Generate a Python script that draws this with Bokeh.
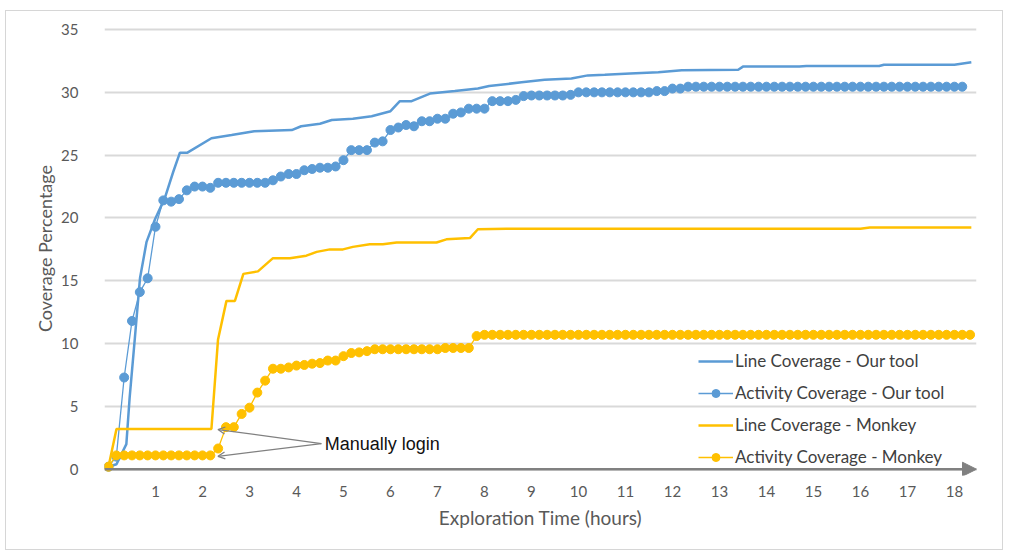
from bokeh.plotting import figure
from bokeh.models import (Range1d, FixedTicker, Arrow, NormalHead, OpenHead,
                          Label, Legend, LegendItem)
from bokeh.embed import file_html
from bokeh.resources import INLINE

# ---------------- data ----------------
series_names = ["Line Coverage - Our tool", "Activity Coverage - Our tool",
                "Line Coverage - Monkey", "Activity Coverage - Monkey"]

# Line coverage of our tool: breakpoints (hours, %)
ours_line_hours = [0, 0.17, 0.38, 0.45, 0.56, 0.67, 0.81, 0.99, 1.2, 1.38,
                   1.52, 1.68, 2.19, 2.62, 3.1, 3.9, 4.1, 4.5, 4.75, 5.2,
                   5.6, 6.0, 6.2, 6.45, 6.84, 7.37, 7.86, 8.1, 8.79, 9.28,
                   9.85, 10.2, 10.56, 11.1, 11.7, 12.2, 13.4, 13.5, 14.7, 14.85,
                   16.4, 16.5, 18.0, 18.36]
ours_line_cov = [0.2, 0.4, 2.0, 5.7, 10.4, 15.2, 18.1, 19.9, 21.6, 23.7,
                 25.2, 25.2, 26.35, 26.6, 26.9, 27.0, 27.3, 27.5, 27.8, 27.9,
                 28.1, 28.5, 29.3, 29.3, 29.9, 30.1, 30.3, 30.5, 30.8, 31.0,
                 31.1, 31.35, 31.4, 31.5, 31.6, 31.75, 31.8, 32.05, 32.05, 32.1,
                 32.1, 32.2, 32.2, 32.4]

# Line coverage of Monkey: breakpoints (hours, %)
monkey_line_hours = [0, 0.17, 2.19, 2.33, 2.51, 2.69, 2.87, 3.18, 3.5, 3.86,
                     4.21, 4.43, 4.71, 4.99, 5.2, 5.56, 5.84, 6.13, 6.98, 7.19,
                     7.69, 7.86, 8.47, 16.0, 16.2, 18.36]
monkey_line_cov = [0.2, 3.2, 3.2, 10.3, 13.4, 13.4, 15.55, 15.75, 16.8, 16.8,
                   17.0, 17.3, 17.5, 17.5, 17.7, 17.9, 17.9, 18.05, 18.05, 18.3,
                   18.4, 19.1, 19.15, 19.15, 19.25, 19.25]

# Activity coverage, one sample every 10 minutes
ours_activity = [
    0.2, 1.0, 7.3, 11.8, 14.1, 15.2, 19.3, 21.4, 21.3, 21.5,
    22.2, 22.5, 22.5, 22.4, 22.8, 22.8, 22.8, 22.8, 22.8, 22.8,
    22.8, 23.0, 23.3, 23.5, 23.5, 23.8, 23.9, 24.0, 24.0, 24.1,
    24.6, 25.4, 25.4, 25.4, 26.0, 26.1, 27.0, 27.2, 27.4, 27.3,
    27.7, 27.7, 27.9, 27.9, 28.3, 28.4, 28.7, 28.7, 28.7, 29.3,
    29.3, 29.3, 29.4, 29.7, 29.75, 29.75, 29.75, 29.75, 29.75, 29.8,
    30.0, 30.0, 30.0, 30.0, 30.0, 30.0, 30.0, 30.0, 30.0, 30.0,
    30.1, 30.1, 30.3, 30.3, 30.45, 30.45, 30.45, 30.45, 30.45, 30.45,
    30.45, 30.45, 30.45, 30.45, 30.45, 30.45, 30.45, 30.45, 30.45, 30.45,
    30.45, 30.45, 30.45, 30.45, 30.45, 30.45, 30.45, 30.45, 30.45, 30.45,
    30.45, 30.45, 30.45, 30.45, 30.45, 30.45, 30.45, 30.45, 30.45, 30.45,
]
monkey_activity = [
    0.2, 1.1, 1.1, 1.1, 1.1, 1.1, 1.1, 1.1, 1.1, 1.1,
    1.1, 1.1, 1.1, 1.1, 1.65, 3.35, 3.35, 4.4, 4.9, 6.1,
    7.05, 8.0, 8.0, 8.1, 8.25, 8.3, 8.4, 8.45, 8.65, 8.65,
    9.0, 9.25, 9.3, 9.4, 9.55, 9.55, 9.55, 9.55, 9.55, 9.55,
    9.55, 9.55, 9.55, 9.65, 9.65, 9.65, 9.65, 10.6, 10.7, 10.7,
    10.7, 10.7, 10.7, 10.7, 10.7, 10.7, 10.7, 10.7, 10.7, 10.7,
    10.7, 10.7, 10.7, 10.7, 10.7, 10.7, 10.7, 10.7, 10.7, 10.7,
    10.7, 10.7, 10.7, 10.7, 10.7, 10.7, 10.7, 10.7, 10.7, 10.7,
    10.7, 10.7, 10.7, 10.7, 10.7, 10.7, 10.7, 10.7, 10.7, 10.7,
    10.7, 10.7, 10.7, 10.7, 10.7, 10.7, 10.7, 10.7, 10.7, 10.7,
    10.7, 10.7, 10.7, 10.7, 10.7, 10.7, 10.7, 10.7, 10.7, 10.7,
    10.7,
]
ours_activity_hours = [i / 6 for i in range(len(ours_activity))]
monkey_activity_hours = [i / 6 for i in range(len(monkey_activity))]

x_tick_values = list(range(1, 19))
y_tick_values = [0, 5, 10, 15, 20, 25, 30, 35]

annotation_text = "Manually login"

# ---------------- styling ----------------
BLUE = "#5b9bd5"
YELLOW = "#ffc000"
GRID = "#d9d9d9"
AXIS_GRAY = "#808080"
TEXT_GRAY = "#595959"
FONT = "Lato"

p = figure(width=998, height=540, output_backend="svg", toolbar_location=None,
           x_range=Range1d(-0.085, 18.47), y_range=Range1d(-0.5, 35.64),
           min_border_left=98, min_border_right=28, min_border_top=10,
           min_border_bottom=76)
p.margin = (10, 0, 0, 5)
p.styles = {"border": "1px solid #d6d6d6", "box-sizing": "border-box"}
p.outline_line_color = None
p.background_fill_color = "white"
p.border_fill_color = "white"

# axes
p.xaxis.ticker = FixedTicker(ticks=x_tick_values)
p.yaxis.ticker = FixedTicker(ticks=y_tick_values)
for ax in (p.xaxis[0], p.yaxis[0]):
    ax.axis_line_color = None
    ax.major_tick_line_color = None
    ax.minor_tick_line_color = None
    ax.major_label_text_font = FONT
    ax.major_label_text_font_size = "15px"
    ax.major_label_text_color = TEXT_GRAY
    ax.axis_label_text_font = FONT
    ax.axis_label_text_font_style = "normal"
    ax.axis_label_text_color = TEXT_GRAY
p.xaxis.axis_label_text_font_size = "19px"
p.yaxis.axis_label_text_font_size = "18px"
p.xaxis.major_label_standoff = 4
p.yaxis.major_label_standoff = 20
p.xaxis.axis_label = "Exploration Time (hours)"
p.yaxis.axis_label = "Coverage Percentage"
p.xaxis.axis_label_standoff = 6
p.yaxis.axis_label_standoff = 2

p.xgrid.grid_line_color = None
p.ygrid.grid_line_color = GRID
p.ygrid.grid_line_width = 2

# x axis line with arrow at y = 0
p.add_layout(Arrow(end=NormalHead(size=14, fill_color=AXIS_GRAY, line_color=AXIS_GRAY),
                   x_start=-0.085, y_start=0, x_end=18.47, y_end=0,
                   line_color=AXIS_GRAY, line_width=2.5))

# series
r_ours_line = p.line(ours_line_hours, ours_line_cov, line_color=BLUE, line_width=2.5)
r_ours_act_l = p.line(ours_activity_hours, ours_activity, line_color=BLUE, line_width=1.3)
r_ours_act_m = p.scatter(ours_activity_hours, ours_activity, size=9,
                         fill_color=BLUE, line_color=BLUE)
r_mk_line = p.line(monkey_line_hours, monkey_line_cov, line_color=YELLOW, line_width=2.5)
r_mk_act_l = p.line(monkey_activity_hours, monkey_activity, line_color=YELLOW, line_width=1.3)
r_mk_act_m = p.scatter(monkey_activity_hours, monkey_activity, size=9,
                       fill_color=YELLOW, line_color=YELLOW)

# annotation
p.add_layout(Arrow(end=OpenHead(size=7, line_color=AXIS_GRAY, line_width=1.3),
                   x_start=4.53, y_start=2.04, x_end=2.33, y_end=3.16,
                   line_color=AXIS_GRAY, line_width=1.3))
p.add_layout(Arrow(end=OpenHead(size=7, line_color=AXIS_GRAY, line_width=1.3),
                   x_start=4.53, y_start=2.04, x_end=2.33, y_end=1.03,
                   line_color=AXIS_GRAY, line_width=1.3))
p.add_layout(Label(x=4.6, y=2.04, text=annotation_text, text_baseline="middle",
                   text_font="Liberation Sans", text_font_size="18px",
                   text_color="#111111"))

# legend
legend = Legend(items=[
    LegendItem(label=series_names[0], renderers=[r_ours_line]),
    LegendItem(label=series_names[1], renderers=[r_ours_act_l, r_ours_act_m]),
    LegendItem(label=series_names[2], renderers=[r_mk_line]),
    LegendItem(label=series_names[3], renderers=[r_mk_act_l, r_mk_act_m]),
], location=(594, 8))
legend.background_fill_alpha = 0
legend.border_line_color = None
legend.padding = 0
legend.margin = 0
legend.spacing = 11
legend.glyph_width = 35
legend.glyph_height = 20
legend.label_height = 20
legend.label_standoff = 2
legend.label_text_font = FONT
legend.label_text_font_size = "17px"
legend.label_text_color = "#404040"
p.add_layout(legend)

open("out.html", "w").write(file_html(p, INLINE))
